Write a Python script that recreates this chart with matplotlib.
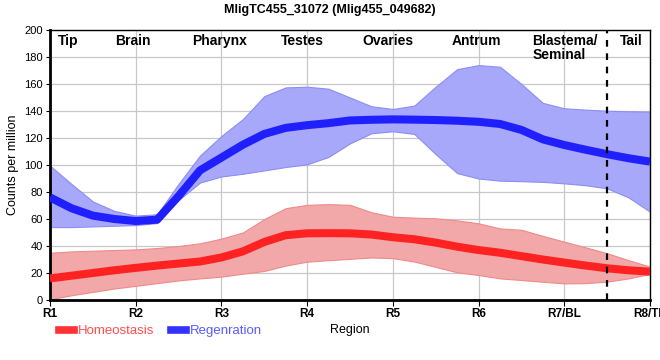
import numpy as np
import matplotlib.pyplot as plt
from matplotlib.lines import Line2D

plt.rcParams['font.family'] = ['Liberation Sans', 'DejaVu Sans']

# positions along the worm (0 = R1 ... 7 = R8/TL), read every quarter region
pos = np.arange(0, 7.01, 0.25)

regen_mean = [76, 68, 62.5, 60, 58.5, 59.5, 77, 96, 105.5, 115, 123, 127.5, 129.5, 131, 133,
              133.5, 133.8, 133.6, 133.3, 132.8, 132, 130.4, 126, 119, 114.8, 111.3, 108, 105, 102.5]
regen_hi = [99.5, 86, 73, 66, 62.5, 63.5, 86, 107, 121.5, 134, 151, 157.5, 158, 156.5, 150,
            143.5, 141.5, 144, 158, 171, 174, 172.8, 160, 146, 142, 141, 140.2, 139.8, 139.5]
regen_lo = [54, 54, 54.5, 55, 55.5, 57, 74, 87, 91.5, 93.5, 96, 98.5, 100.5, 106, 116,
            123.5, 125, 123, 108, 94, 90, 88.4, 88, 87.5, 86.4, 85, 82.7, 76, 65.4]

homeo_mean = [16, 18, 20, 22, 23.8, 25.5, 27, 28.5, 31.5, 36, 43, 48, 49.4, 49.5, 49.4,
              48.5, 46.5, 45, 42.5, 39.5, 37, 35, 32.5, 30, 27.7, 25.5, 23.5, 22, 21]
homeo_hi = [35, 36, 36.5, 37, 37.5, 38.5, 40, 42, 45.5, 50, 60, 68, 70.5, 71, 70.5,
            65, 61.7, 61, 60.5, 59, 56.8, 53, 52, 47.5, 43.2, 39, 34.6, 29.5, 24.7]
homeo_lo = [0.5, 3.5, 6, 8.5, 10.5, 12.5, 14.5, 16, 17.3, 19.5, 21.5, 25.5, 28.4, 29.5, 30.5,
            31.5, 31, 28.5, 24.5, 20.5, 18.5, 16, 14.8, 13.5, 12.3, 12.5, 13.6, 16, 19.3]

region_ticks = ['R1', 'R2', 'R3', 'R4', 'R5', 'R6', 'R7/BL', 'R8/TL']
sections = ['Tip', 'Brain', 'Pharynx', 'Testes', 'Ovaries', 'Antrum', 'Blastema/\nSeminal', 'Tail']
section_x = [0.21, 0.97, 1.98, 2.95, 3.94, 4.98, 5.63, 6.78]

fig = plt.figure(figsize=(6.6, 3.6), dpi=100)
ax = fig.add_axes([50/660, 60/360, 600/660, 270/360])

# bands
ax.fill_between(pos, homeo_lo, homeo_hi, facecolor='#f2a8a8', edgecolor='#ee8a8a', lw=0.8,
                joinstyle='round', zorder=2)
ax.fill_between(pos, regen_lo, regen_hi, facecolor='#a7a8f9', edgecolor='#8c8df5', lw=0.8,
                joinstyle='round', zorder=2)
ax.plot(pos, homeo_mean, color='#ff2222', lw=5.8, solid_capstyle='butt', solid_joinstyle='round', zorder=3)
ax.plot(pos, regen_mean, color='#2020ff', lw=5.8, solid_capstyle='butt', solid_joinstyle='round', zorder=3)

ax.axvline(6.5, color='black', ls=(0, (3, 3)), lw=1.6, zorder=4)

for name, sx in zip(sections, section_x):
    ha = 'left' if '\n' in name else 'center'
    ax.text(sx, 197, name, ha=ha, va='top', fontsize=10, fontweight='bold', linespacing=1.0, zorder=5)

ax.set_xlim(0, 7)
ax.set_ylim(0, 200)
ax.set_xticks(range(8))
ax.set_xticklabels(region_ticks, fontsize=8.5, fontweight='bold')
ax.set_yticks(range(0, 201, 20))
ax.tick_params(axis='y', labelsize=8, length=3, pad=2)
ax.tick_params(axis='x', length=4, pad=2)
ax.grid(True, color='#c8c8c8', lw=0.9, zorder=0)
ax.set_axisbelow(True)
for side in ['left', 'bottom']:
    ax.spines[side].set_linewidth(2)
for side in ['top', 'right']:
    ax.spines[side].set_linewidth(1)

ax.set_ylabel('Counts per million', fontsize=9, labelpad=4)
ax.set_xlabel('Region', fontsize=9)
ax.xaxis.set_label_coords(0.5, -0.09)
fig.suptitle('MligTC455_31072 (Mlig455_049682)', fontsize=9, fontweight='bold', y=0.99)

handles = [Line2D([], [], color='#ff3333', lw=5.5), Line2D([], [], color='#3333ff', lw=5.5)]
fig.legend(handles, ['Homeostasis', 'Regenration'], loc='center left', bbox_to_anchor=(0.072, 0.08),
           ncol=2, frameon=False, fontsize=9.5, handlelength=1.1, handletextpad=0.3, columnspacing=1.3,
           labelcolor=['#ff4d4d', '#5a5aff'])

fig.savefig('out.png', dpi=100)
